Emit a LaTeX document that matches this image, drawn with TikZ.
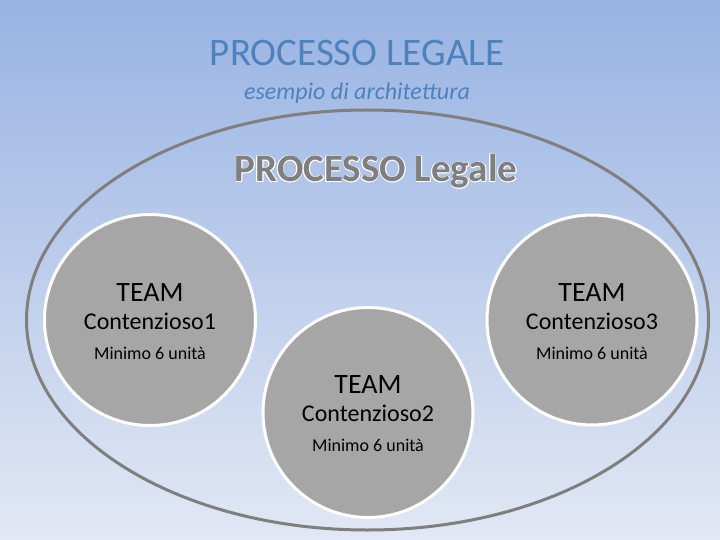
\documentclass[tikz,border=0pt]{standalone}
\usepackage{fontspec}
\setmainfont{Carlito}
\usepackage{tikz}
\definecolor{titleblue}{HTML}{4F81BD}
\definecolor{bgtop}{HTML}{98B3E3}
\definecolor{bgbottom}{HTML}{E2E8F4}
\definecolor{ringgray}{HTML}{7F7F7F}
\definecolor{teamgray}{HTML}{A6A6A6}
\tikzset{
	teamdisc/.style={circle, fill=teamgray, draw=white, line width=3pt, inner sep=0pt},
	titletxt/.style={anchor=base, text=titleblue, font=\fontsize{39}{44}\selectfont},
	subtxt/.style={anchor=base, text=titleblue, font=\fontsize{24}{28}\selectfont\itshape},
	headtxt/.style={anchor=base, font=\fontsize{39}{44}\selectfont\bfseries},
	teamA/.style={anchor=base, font=\fontsize{28}{32}\selectfont},
	teamB/.style={anchor=base, font=\fontsize{24}{28}\selectfont},
	teamC/.style={anchor=base, font=\fontsize{18}{22}\selectfont}
}

\begin{document}
\begin{tikzpicture}[x=1pt, y=-1pt]
	% Background:
	\shade[top color=bgtop, bottom color=bgbottom] (0,0) rectangle (720,540);
	\useasboundingbox (0,0) rectangle (720,540);
	% Titles:
	\node[titletxt] (ttl) at (357,66) {PROCESSO LEGALE};
	\node[subtxt] (sub) at (357,100) {esempio di architettura};
	% Outer ring:
	\draw[ringgray, line width=3pt] (367.5,320) ellipse [x radius=341, y radius=210];
	\foreach \a in {0,45,...,315}
		\node[headtxt, text=white, shift={(\a:0.75)}] at (376,182) {PROCESSO Legale};
	\node[headtxt, text=ringgray] (head) at (376,182) {PROCESSO Legale};
	% Teams:
	\node[teamdisc, minimum size=211pt] (c1) at (150,320) {};
	\node[teamdisc, minimum size=210pt] (c3) at (592,320) {};
	\node[teamdisc, minimum size=210pt] (c2) at (368,412.5) {};
	\foreach \n/\k in {c1/1, c2/2, c3/3} {
		\node[teamA] (\n-a) at ([yshift=19pt]\n.center) {TEAM};
		\node[teamB] (\n-b) at ([yshift=-9pt]\n.center) {Contenzioso\k};
		\node[teamC] (\n-c) at ([yshift=-39pt]\n.center) {Minimo 6 unità};
	}
\end{tikzpicture}
\end{document}
